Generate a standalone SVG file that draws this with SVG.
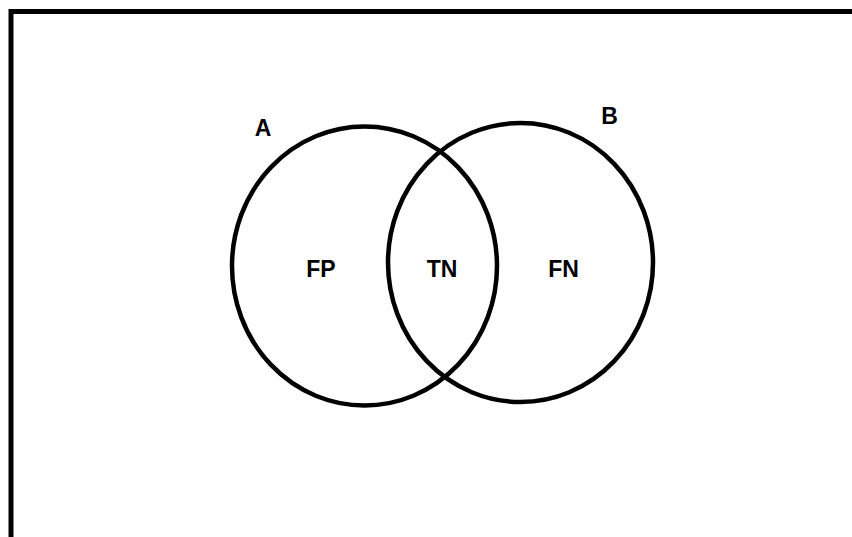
<svg xmlns="http://www.w3.org/2000/svg" width="852" height="537" viewBox="0 0 852 537">
  <style>
    .set { fill: none; stroke: #000; stroke-width: 4.5; }
    .lbl { font-family: "Liberation Sans", Arial, sans-serif; font-weight: bold; font-size: 23px; fill: #000; }
  </style>
  <rect width="852" height="537" fill="#fff"/>
  <!-- outer frame, running past the right and bottom edges -->
  <rect id="frame" x="11" y="11.5" width="860" height="560" fill="none" stroke="#000" stroke-width="5"/>
  <g id="setA">
    <ellipse class="set" cx="364.5" cy="266" rx="132.5" ry="139.5"/>
    <text class="lbl" x="263" y="136" text-anchor="middle">A</text>
  </g>
  <g id="setB">
    <ellipse class="set" cx="520.5" cy="262.5" rx="132.5" ry="139.5"/>
    <text class="lbl" x="609.5" y="124" text-anchor="middle">B</text>
  </g>
  <g id="regions">
    <text class="lbl" x="321" y="277" text-anchor="middle">FP</text>
    <text class="lbl" x="442" y="277" text-anchor="middle">TN</text>
    <text class="lbl" x="563.5" y="277" text-anchor="middle">FN</text>
  </g>
</svg>
